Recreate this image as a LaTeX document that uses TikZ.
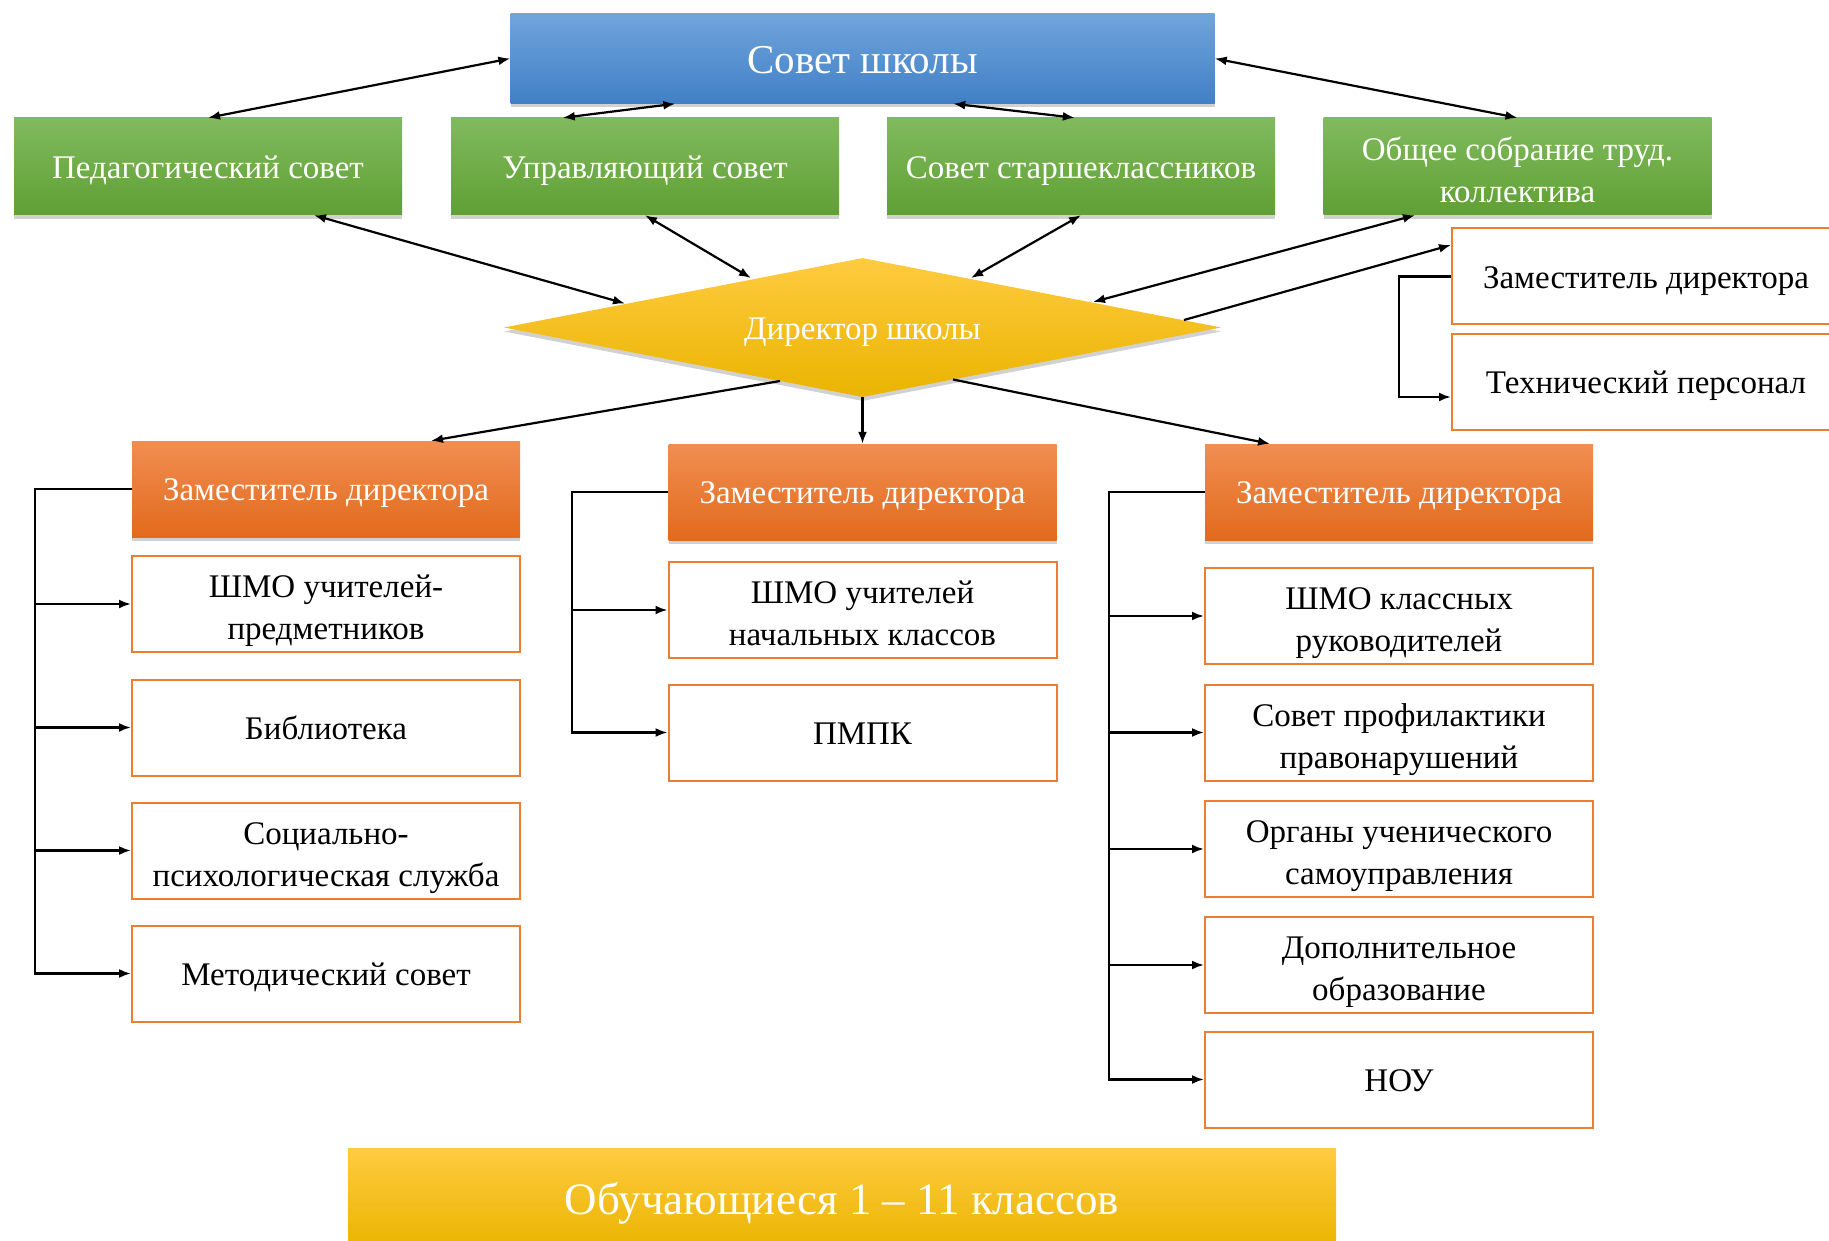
\documentclass[tikz,border=0pt]{standalone}
\usepackage{fontspec}
\setmainfont{Liberation Serif}
\usetikzlibrary{arrows.meta,shapes.geometric,shadows,calc}
\definecolor{blueT}{RGB}{112,164,219}
\definecolor{blueM}{RGB}{77,148,217}
\definecolor{blueB}{RGB}{65,128,198}
\definecolor{greenT}{RGB}{129,186,94}
\definecolor{greenM}{RGB}{106,171,62}
\definecolor{greenB}{RGB}{95,160,52}
\definecolor{orT}{RGB}{240,142,82}
\definecolor{orM}{RGB}{238,122,48}
\definecolor{orB}{RGB}{226,106,28}
\definecolor{yelT}{RGB}{255,203,64}
\definecolor{yelM}{RGB}{255,194,10}
\definecolor{yelB}{RGB}{234,180,0}
\definecolor{orline}{RGB}{237,125,49}
\newcommand\txtf{\fontsize{33}{42}\selectfont}
\newcommand\sA{\rule{0pt}{1em}}
\newcommand\sAA{\rule{0pt}{1.17em}}
\newcommand\sB{\rule[-0.28em]{0pt}{0pt}}
\begin{document}
\begin{tikzpicture}[x=1pt,y=-1pt,
  softshadow/.style={drop shadow={shadow xshift=0pt,shadow yshift=-4pt,opacity=0.18,fill=black}},
  box/.style={rectangle,inner sep=0pt,minimum width=388pt,minimum height=96pt,align=center,font=\txtf},
  bluebox/.style={box,softshadow,top color=blueT,middle color=blueM,bottom color=blueB,text=white},
  greenbox/.style={box,softshadow,top color=greenT,middle color=greenM,bottom color=greenB,text=white,minimum height=97pt},
  orbox/.style={box,softshadow,top color=orT,middle color=orM,bottom color=orB,text=white},
  whitebox/.style={box,draw=orline,line width=2pt,fill=white,text=black},
  link/.style={line width=2.2pt,{Latex[length=12pt,width=9pt]}-{Latex[length=12pt,width=9pt]}},
  arr/.style={line width=2.2pt,-{Latex[length=12pt,width=9pt]}},
  tree/.style={line width=2.2pt,-{Latex[length=12pt,width=9pt]}}
]
\useasboundingbox (0,0) rectangle (1829,1241);
\clip (0,0) rectangle (1829,1241);
\fill[white] (0,0) rectangle (1829,1241);

% top level
\node[bluebox,minimum width=704pt,minimum height=90pt,font=\fontsize{41}{48}\selectfont] (sovet) at (862.5,58.5) {\sA Совет школы\sB};

% green row
\node[greenbox] (ped) at (208,166.5) {\sA Педагогический совет\sB};
\node[greenbox] (upr) at (645,166.5) {\sA Управляющий совет\sB};
\node[greenbox] (star) at (1081,166.5) {\sA Совет старшеклассников\sB};
\node[greenbox] (obsh) at (1517.5,166.5) {\sAA Общее собрание труд.\\коллектива\sB};

% director diamond
\node[diamond,shape aspect=5.16,minimum width=717pt,minimum height=139pt,inner sep=0pt,
      softshadow,top color=yelT,middle color=yelM,bottom color=yelB,text=white,font=\txtf] (dir) at (862.5,327.5) {\sA Директор школы\sB};

% right side boxes
\node[whitebox] (zamR) at (1646,276.5) {\sA Заместитель директора\sB};
\node[whitebox] (tech) at (1646,382) {\sA Технический персонал\sB};

% headers
\node[orbox] (hdrL) at (326,489) {\sA Заместитель директора\sB};
\node[orbox] (hdrM) at (862.5,492) {\sA Заместитель директора\sB};
\node[orbox] (hdrR) at (1399,492) {\sA Заместитель директора\sB};

% left column
\node[whitebox] (shmoP) at (326,604) {\sAA ШМО учителей-\\предметников\sB};
\node[whitebox] (lib) at (326,727.5) {\sA Библиотека\sB};
\node[whitebox] (soc) at (326,850.5) {\sAA Социально-\\психологическая служба\sB};
\node[whitebox] (met) at (326,973.5) {\sA Методический совет\sB};

% middle column
\node[whitebox] (shmoN) at (862.5,610) {\sAA ШМО учителей\\начальных классов\sB};
\node[whitebox] (pmpk) at (862.5,732.5) {\sA ПМПК\sB};

% right column
\node[whitebox] (shmoK) at (1399,616) {\sAA ШМО классных\\руководителей\sB};
\node[whitebox] (prof) at (1399,732.5) {\sAA Совет профилактики\\правонарушений\sB};
\node[whitebox] (org) at (1399,849) {\sAA Органы ученического\\самоуправления\sB};
\node[whitebox] (dop) at (1399,965) {\sAA Дополнительное\\образование\sB};
\node[whitebox] (nou) at (1399,1079.5) {\sA НОУ\sB};

% bottom
\node[box,softshadow,minimum width=988pt,minimum height=100pt,top color=yelT,middle color=yelM,bottom color=yelB,text=white,font=\fontsize{45}{52}\selectfont] (stud) at (842,1198) {\sA Обучающиеся 1 – 11 классов\sB};

% links sovet <-> green row
\draw[link] (sovet.west) -- (ped.north);
\draw[link] ($(sovet.south west)+(165,0)$) -- ($(upr.north west)+(112,0)$);
\draw[link] ($(sovet.south east)+(-261.5,0)$) -- ($(star.north west)+(188,0)$);
\draw[link] (sovet.east) -- (obsh.north);

% links green row <-> director
\draw[link] ($(ped.south)+(106,0)$) -- ($(dir.center)+(-237.5,-24)$);
\draw[link] (upr.south) -- ($(dir.center)+(-111.5,-49.5)$);
\draw[link] (star.south) -- ($(dir.center)+(108.5,-49.5)$);
\draw[link] ($(obsh.south)+(-102.5,0)$) -- ($(dir.center)+(230.5,-25.5)$);

% director -> subordinates
\draw[arr] ($(dir.center)+(321.5,-7.5)$) -- ($(zamR.west)+(0,-31.5)$);
\draw[arr] ($(dir.center)+(-82.5,53.5)$) -- ($(hdrL.north)+(105,0)$);
\draw[arr] (dir.south) -- (hdrM.north);
\draw[arr] ($(dir.center)+(90.5,52)$) -- ($(hdrR.north)+(-129,0)$);

% right side tree
\coordinate (trS) at (1399,276.5);
\draw[tree] (zamR.west) -- (trS) |- ($(tech.west)+(0,15)$);

% left tree
\coordinate (trL) at (35,489);
\draw[tree] (hdrL.west) -- (trL) |- (met.west);
\draw[tree] (trL |- shmoP.west) -- (shmoP.west);
\draw[tree] (trL |- lib.west) -- (lib.west);
\draw[tree] (trL |- soc.west) -- (soc.west);

% middle tree
\coordinate (trM) at (572,492);
\draw[tree] (hdrM.west) -- (trM) |- (pmpk.west);
\draw[tree] (trM |- shmoN.west) -- (shmoN.west);

% right tree
\coordinate (trR) at (1109,492);
\draw[tree] (hdrR.west) -- (trR) |- (nou.west);
\draw[tree] (trR |- shmoK.west) -- (shmoK.west);
\draw[tree] (trR |- prof.west) -- (prof.west);
\draw[tree] (trR |- org.west) -- (org.west);
\draw[tree] (trR |- dop.west) -- (dop.west);
\end{tikzpicture}
\end{document}
